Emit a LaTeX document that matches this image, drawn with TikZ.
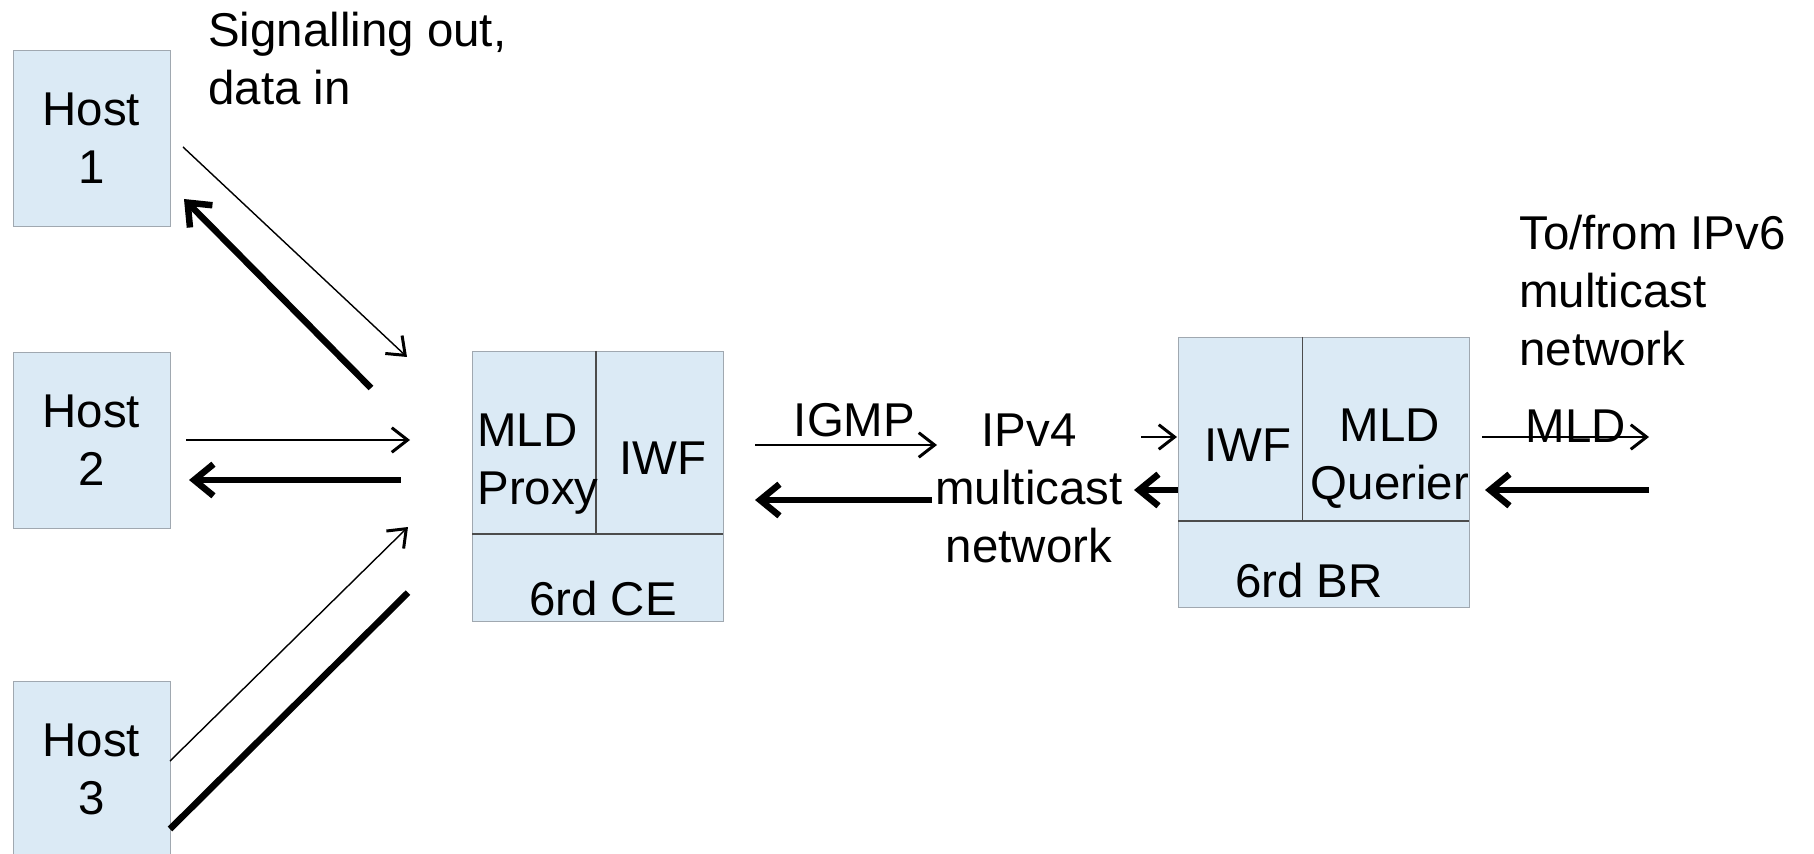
\documentclass[tikz,border=0pt]{standalone}
\usepackage{fontspec}
\setmainfont{Liberation Sans}
\usepackage{xcolor}
\usetikzlibrary{arrows.meta}
\definecolor{boxblue}{RGB}{219,234,245}
\definecolor{boxline}{RGB}{160,168,176}

\begin{document}
\begin{tikzpicture}[x=0.02cm,y=-0.02cm]
        \tikzstyle{every node}+=[inner sep=0pt, font=\fontsize{27}{33}\selectfont]
        \tikzstyle{host}=[draw=boxline, fill=boxblue, minimum width=3.14cm, minimum height=3.52cm, align=center]
        \tikzstyle{unit}=[draw=boxline, fill=boxblue, minimum height=5.4cm]
        \tikzstyle{part}=[draw=black!70, line width=0.6pt]
        \tikzstyle{sig}=[black, line width=0.8pt, -{Straight Barb[length=9pt,width=14pt,line width=1.7pt]}]
        \tikzstyle{dat}=[black, line width=3.7pt, -{Straight Barb[length=11pt,width=18pt]}]
        \useasboundingbox (0,0) rectangle (1814,854);
        % hosts
        \node [host] (host1) at (91.4,138) {Host\\1};
        \node [host] (host2) at (91.4,440.5) {Host\\2};
        \node [host] (host3) at (91.4,769) {Host\\3};
        \node [anchor=west, align=left] (sigtext) at (208,59) {Signalling out,\\data in};
        % 6rd CE
        \node [unit, minimum width=5.02cm] (ce) at (597.5,486) {};
        \draw [part] (596,351) -- (596,534);
        \draw [part] (472,534) -- (723,534);
        \node [anchor=west, align=left] (proxy) at (477,464.5) {MLD\\Proxy};
        \node [anchor=base] (ceiwf) at (663,474) {IWF};
        \node [anchor=base] (cename) at (603,615) {6rd CE};
        % 6rd BR
        \node [unit, minimum width=5.82cm] (br) at (1323.5,472) {};
        \draw [part] (1302.6,337) -- (1302.6,521);
        \draw [part] (1178,521) -- (1469,521);
        \node [anchor=base] (briwf) at (1248,461) {IWF};
        \node [align=center] (querier) at (1390,459) {MLD\\Querier};
        \node [anchor=base] (brname) at (1309,597) {6rd BR};
        % middle and right texts
        \node [anchor=base] (igmp) at (854.5,437) {IGMP};
        \node [align=center] (v4net) at (1029,488) {IPv4\\multicast\\network};
        \node [anchor=base] (mld) at (1576,442) {MLD};
        \node [anchor=west, align=left] (v6net) at (1519,291) {To/from IPv6\\multicast\\network};
        % arrow ends
        \coordinate (h1s) at (183,147);
        \coordinate (h1e) at (407,357);
        \coordinate (h1d) at (371,388);
        \coordinate (h1t) at (184,199);
        \coordinate (h2s) at (186,440);
        \coordinate (h2e) at (410,440);
        \coordinate (h2d) at (400.5,480);
        \coordinate (h2t) at (189,480);
        \coordinate (h3s) at (170,761);
        \coordinate (h3e) at (408,527);
        \coordinate (h3d) at (170,829);
        \coordinate (h3t) at (408,592.6);
        \coordinate (ceout) at (755,445);
        \coordinate (v4in) at (937,445);
        \coordinate (v4out) at (932,500);
        \coordinate (cein) at (755,500);
        \coordinate (brs) at (1141,437);
        \coordinate (brin) at (1177,437);
        \coordinate (brd) at (1178,490);
        \coordinate (brt) at (1134,490);
        \coordinate (mlds) at (1482,437);
        \coordinate (mlde) at (1649,437);
        \coordinate (v6d) at (1649,490);
        \coordinate (v6t) at (1485,490);
        % signalling
        \draw [sig] (h1s) -- (h1e);
        \draw [sig] (h2s) -- (h2e);
        \draw [sig] (h3s) -- (h3e);
        \draw [sig] (ceout) -- (v4in);
        \draw [sig] (brs) -- (brin);
        \draw [sig] (mlds) -- (mlde);
        % data
        \draw [dat] (h1d) -- (h1t);
        \draw [dat] (h2d) -- (h2t);
        \draw [black, line width=3.7pt] (h3d) -- (h3t);
        \draw [dat] (v4out) -- (cein);
        \draw [dat] (brd) -- (brt);
        \draw [dat] (v6d) -- (v6t);
\end{tikzpicture}
\end{document}
